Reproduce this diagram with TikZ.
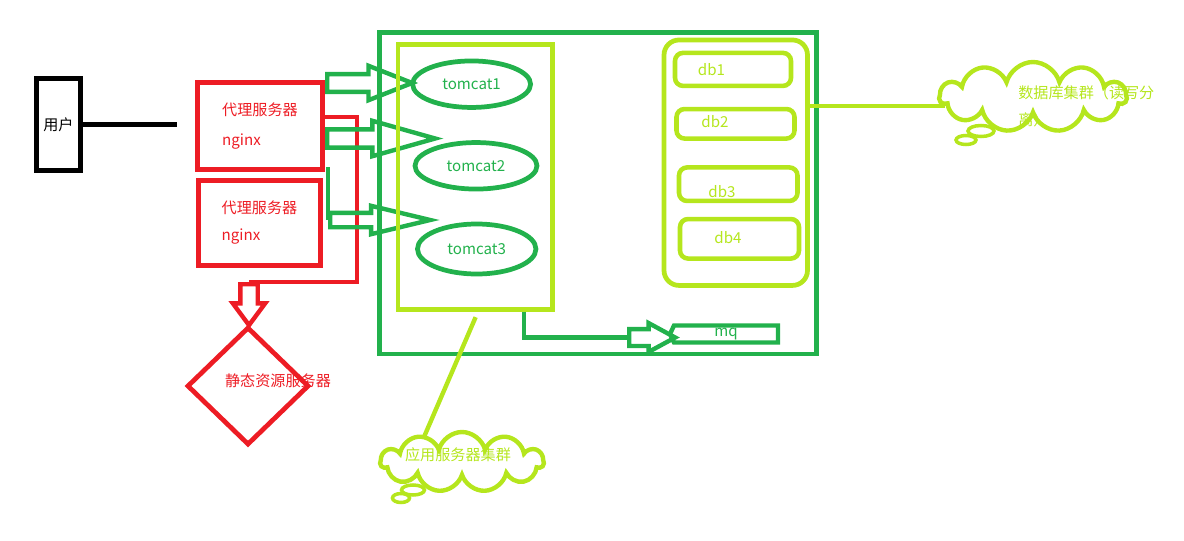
\documentclass[tikz,border=0pt]{standalone}
\usepackage{fontspec}
\setmainfont{Noto Sans CJK SC}
\usetikzlibrary{shapes.geometric,shapes.arrows,shapes.symbols}
\definecolor{redline}{RGB}{237,28,36}
\definecolor{greenline}{RGB}{34,177,76}
\definecolor{limeline}{RGB}{181,230,29}
\tikzset{
  box/.style={rectangle,draw,line width=2.7pt,inner sep=0pt},
  lbl/.style={font=\fontsize{8.6}{10}\selectfont,inner sep=0pt},
  hollow/.style={single arrow,draw=greenline,line width=2.5pt,inner xsep=0pt,minimum width=0pt,anchor=tail},
  dbbox/.style={rectangle,rounded corners=0.16cm,draw=limeline,line width=2.6pt,inner sep=0pt},
  note/.style={cloud,draw=limeline,line width=2.5pt,cloud puffs=11,aspect=2.7,inner sep=0pt},
  bubble/.style={draw=limeline,line width=2pt},
}
\begin{document}
\begin{tikzpicture}[x=0.02cm,y=-0.02cm]
\useasboundingbox (0,0) rectangle (1184,541);
% x, y in pixels
\node[box,draw=black,line width=3pt,minimum width=0.88cm,minimum height=1.84cm,lbl] (user) at (58.5,124.5) {用户};
\coordinate (userend) at (177,123);
\draw[line width=3pt] (user.east) -- (user.east -| userend);

\node[box,draw=redline,minimum width=2.5cm,minimum height=1.74cm,lbl,text=redline,align=left,font=\fontsize{8.6}{17.6}\selectfont] (proxy1) at (260,126) {代理服务器\\nginx};
\node[box,draw=redline,minimum width=2.44cm,minimum height=1.7cm,lbl,text=redline,align=left,font=\fontsize{8.6}{15.4}\selectfont] (proxy2) at (259.5,223) {代理服务器\\nginx};

% static files
\node[single arrow,draw=redline,line width=2.5pt,inner xsep=0pt,minimum width=0pt,inner ysep=0.13cm,single arrow head extend=0.15cm,single arrow tip angle=73,minimum height=0.82cm,rotate=-90,anchor=tail] (todown) at (249,282) {};
\coordinate (redturn) at (357,117);
\draw[redline,line width=2.7pt] (redturn -| proxy1.east) -- (redturn) |- (todown.tail);
\node[diamond,draw=redline,line width=2.7pt,minimum width=2.44cm,minimum height=2.36cm,inner sep=0pt] (static) at (248,386) {};
\node[lbl,text=redline] (statictext) at (278,381) {静态资源服务器};

% arrows into the cluster
\node[hollow,inner ysep=0.135cm,single arrow head extend=0.165cm,single arrow tip angle=43,minimum height=1.7cm] (arr1) at (325,83) {};
\node[hollow,inner ysep=0.14cm,single arrow head extend=0.17cm,single arrow tip angle=31.5,minimum height=2.16cm] (arr2) at (325,138.5) {};
\node[hollow,inner ysep=0.1cm,single arrow head extend=0.14cm,single arrow tip angle=27,minimum height=2cm] (arr3) at (328,220) {};
\coordinate (arr3top) at (328,167);
\draw[greenline,line width=2.5pt] (arr3top) -- (arr3.tail);

\node[box,draw=greenline,minimum width=8.74cm,minimum height=6.43cm] (cluster) at (598,193.25) {};
\node[box,draw=limeline,minimum width=3.09cm,minimum height=5.3cm] (apps) at (475.25,176.8) {};

\node[ellipse,draw=greenline,line width=2.7pt,lbl,text=greenline,minimum width=2.36cm,minimum height=0.93cm] (tomcat1) at (471.6,84.2) {tomcat1};
\node[ellipse,draw=greenline,line width=2.7pt,lbl,text=greenline,minimum width=2.44cm,minimum height=0.93cm] (tomcat2) at (476,165.8) {tomcat2};
\node[ellipse,draw=greenline,line width=2.7pt,lbl,text=greenline,minimum width=2.37cm,minimum height=1cm] (tomcat3) at (476.7,249) {tomcat3};

% message queue
\node[signal,signal to=west,signal pointer angle=130,draw=greenline,line width=2.5pt,lbl,text=greenline,minimum width=2.16cm,minimum height=0.34cm] (mq) at (726,334) {mq};
\node[hollow,inner ysep=0.125cm,single arrow head extend=0.12cm,single arrow tip angle=57,minimum height=0.92cm] (arrmq) at (627,337.5) {};
\coordinate (mqfrom) at (524,0);
\draw[greenline,line width=2.5pt] (apps.south -| mqfrom) |- (arrmq.tail);

% databases
\node[rectangle,rounded corners=0.3cm,draw=limeline,line width=2.7pt,minimum width=2.87cm,minimum height=4.91cm] (dbs) at (735.75,162.7) {};
\node[dbbox,minimum width=2.32cm,minimum height=0.66cm] (db1) at (733,69.4) {};
\node[dbbox,minimum width=2.36cm,minimum height=0.59cm] (db2) at (735.5,123.8) {};
\node[dbbox,minimum width=2.37cm,minimum height=0.67cm] (db3) at (738.25,184.2) {};
\node[dbbox,minimum width=2.38cm,minimum height=0.79cm] (db4) at (739.5,238.8) {};
\node[lbl,text=limeline] (db1text) at (711.5,70) {db1};
\node[lbl,text=limeline] (db2text) at (715,122) {db2};
\node[lbl,text=limeline] (db3text) at (722,192) {db3};
\node[lbl,text=limeline] (db4text) at (728,238) {db4};

% notes
\node[note,minimum width=3.74cm,minimum height=1.4cm] (dbnote) at (1033,97) {};
\draw[bubble] (981,131) ellipse (13 and 5.5);
\draw[bubble] (966,140) ellipse (10 and 4.5);
\node[lbl,text=limeline,align=left,anchor=west,font=\fontsize{8.6}{15.4}\selectfont] (dbnotetext) at (1018,106.5) {数据库集群（读写分\\离）};
\coordinate (dbline) at (945,106);
\draw[limeline,line width=2.5pt] (dbs.east |- dbline) -- (dbline);

\node[note,minimum width=3.26cm,minimum height=1.2cm] (appnote) at (462,462) {};
\draw[bubble] (413,490) ellipse (11.5 and 5);
\draw[bubble] (401,498) ellipse (8.5 and 4.5);
\node[lbl,text=limeline] (appnotetext) at (458,455) {应用服务器集群};
\coordinate (appsfoot) at (478,0);
\coordinate (appnotetop) at (424,437);
\draw[limeline,line width=2.5pt,shorten <=0.12cm] (apps.south -| appsfoot) -- (appnotetop);
\end{tikzpicture}
\end{document}
